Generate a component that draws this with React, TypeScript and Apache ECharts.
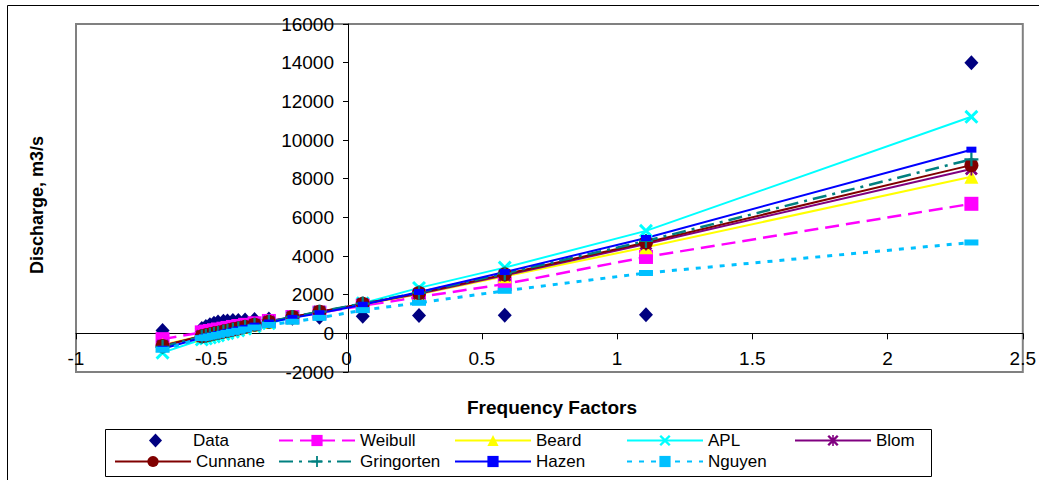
import React, { useEffect, useRef } from "react";
import * as echarts from "echarts";

const K = [-0.68, -0.535, -0.52, -0.505, -0.49, -0.475, -0.455, -0.44, -0.42, -0.4, -0.375, -0.34, -0.287, -0.2, -0.1, 0.06, 0.268, 0.585, 1.107, 2.31];
const dataQ = [150, 250, 350, 450, 520, 580, 620, 640, 660, 670, 690, 710, 740, 780, 830, 880, 920, 940, 960, 14000];
const weibull = [-300, 50, 90, 120, 160, 200, 240, 280, 330, 380, 440, 520, 640, 840, 1070, 1430, 1880, 2550, 3950, 6700];
const beard = [-600, -120, -80, -30, 10, 50, 110, 150, 210, 270, 340, 440, 590, 830, 1100, 1500, 2020, 2950, 4450, 8100];
const apl = [-1000, -320, -270, -215, -165, -110, -40, 10, 80, 150, 240, 360, 520, 800, 1080, 1560, 2350, 3400, 5300, 11200];
const blom = [-640, -140, -95, -50, -5, 40, 100, 145, 205, 265, 340, 445, 600, 845, 1110, 1520, 2050, 3000, 4620, 8500];
const cunnane = [-650, -150, -105, -60, -10, 35, 95, 140, 205, 265, 340, 450, 600, 850, 1120, 1530, 2080, 3050, 4700, 8700];
const gringorten = [-700, -170, -125, -75, -30, 20, 80, 125, 190, 250, 330, 440, 595, 850, 1120, 1540, 2110, 3100, 4780, 9000];
const hazen = [-800, -230, -180, -135, -85, -35, 30, 75, 140, 205, 285, 400, 560, 800, 1040, 1480, 2140, 3170, 4930, 9500];
const nguyen = [-850, -250, -210, -165, -125, -80, -25, 20, 75, 130, 200, 300, 430, 600, 800, 1200, 1580, 2200, 3120, 4700];

const xTicks = { min: -1, max: 2.5, interval: 0.5 };
const yTicks = { min: -2000, max: 16000, interval: 2000 };

const FONT = '"Liberation Sans", Arial, Helvetica, sans-serif';

const X_PATH = "path://M0,1.5 L1.5,0 L5,3.5 L8.5,0 L10,1.5 L6.5,5 L10,8.5 L8.5,10 L5,6.5 L1.5,10 L0,8.5 L3.5,5 Z";
const PLUS_PATH = "path://M4.2,0 H5.8 V4.2 H10 V5.8 H5.8 V10 H4.2 V5.8 H0 V4.2 H4.2 Z";
const STAR_PATH = "path://M0,1.5 L1.5,0 L5,3.5 L8.5,0 L10,1.5 L6.5,5 L10,8.5 L8.5,10 L5,6.5 L1.5,10 L0,8.5 L3.5,5 Z M4.3,0 H5.7 V10 H4.3 Z";

const pair = (vals: number[]) => K.map((k, i) => [k, vals[i]]);

function lineSeries(name: string, vals: number[], color: string, symbol: string, symbolSize: any, type: any, width: number) {
  return {
    type: "line",
    name,
    data: pair(vals),
    symbol,
    symbolSize,
    showSymbol: true,
    itemStyle: { color, borderWidth: 0, opacity: 1 },
    lineStyle: { color, width, type },
    emphasis: { disabled: true },
  };
}

// grid geometry
const GL = 76, GT = 24, GW = 952, GH = 348;

export default function App() {
  const ref = useRef<HTMLDivElement>(null);
  useEffect(() => {
    const chart = echarts.init(ref.current!, null, { renderer: "svg" });
    const row1 = 432;
    const row2 = 453;
    const legendItems: any[] = [
      { name: "Data", left: 149, top: row1, itemWidth: 13, padLeft: 26 },
      { name: "Weibull", left: 278, top: row1 },
      { name: "Beard", left: 454, top: row1 },
      { name: "APL", left: 626, top: row1 },
      { name: "Blom", left: 794, top: row1 },
      { name: "Cunnane", left: 114, top: row2 },
      { name: "Gringorten", left: 278, top: row2 },
      { name: "Hazen", left: 454, top: row2 },
      { name: "Nguyen", left: 626, top: row2 },
    ];
    // offsets that put each axis on the other's zero
    const xZeroFrac = (0 - xTicks.min) / (xTicks.max - xTicks.min);
    const yZeroFrac = (0 - yTicks.min) / (yTicks.max - yTicks.min);
    const yAxisOffset = -GW * xZeroFrac;
    const xAxisOffset = -GH * yZeroFrac;
    const fmt = (v: number) => String(v);
    const option: any = {
      animation: false,
      backgroundColor: "#ffffff",
      textStyle: { fontFamily: FONT },
      grid: {
        left: GL,
        top: GT,
        width: GW,
        height: GH,
        show: true,
        borderColor: "#808080",
        borderWidth: 2,
        backgroundColor: "transparent",
      },
      legend: legendItems.map((l) => ({
        data: [l.name],
        left: l.left,
        top: l.top,
        padding: 0,
        itemWidth: l.itemWidth || 76,
        itemHeight: 14,
        selectedMode: false,
        textStyle: {
          fontSize: 17,
          color: "#000",
          fontFamily: FONT,
          padding: [0, 0, 0, l.padLeft || 0],
        },
      })),
      xAxis: {
        type: "value",
        ...xTicks,
        offset: xAxisOffset,
        axisLine: { show: true, onZero: false, lineStyle: { color: "#000", width: 1 } },
        axisTick: { show: true, length: 6, lineStyle: { color: "#000" } },
        axisLabel: { fontSize: 19, color: "#000", margin: 16, fontFamily: FONT, showMinLabel: true, showMaxLabel: true, formatter: fmt },
        splitLine: { show: false },
      },
      yAxis: {
        type: "value",
        ...yTicks,
        offset: yAxisOffset,
        axisLine: { show: true, onZero: false, lineStyle: { color: "#000", width: 1 } },
        axisTick: { show: true, length: 5, lineStyle: { color: "#000" } },
        axisLabel: { fontSize: 19, color: "#000", margin: 14, fontFamily: FONT, showMinLabel: true, showMaxLabel: true, formatter: fmt },
        splitLine: { show: false },
      },
      series: [
        {
          type: "scatter",
          name: "Data",
          data: pair(dataQ),
          symbol: "diamond",
          symbolSize: [14, 15],
          itemStyle: { color: "#000080", opacity: 1 },
          emphasis: { disabled: true },
        },
        lineSeries("Weibull", weibull, "#FF00FF", "rect", 14, [14, 7], 2.5),
        lineSeries("Beard", beard, "#FFFF00", "triangle", 14, "solid", 2),
        lineSeries("APL", apl, "#00FFFF", X_PATH, 14, "solid", 2),
        lineSeries("Blom", blom, "#800080", STAR_PATH, 13, "solid", 2),
        lineSeries("Cunnane", cunnane, "#800000", "circle", 14, "solid", 2),
        lineSeries("Gringorten", gringorten, "#008080", PLUS_PATH, 14, [14, 6, 3, 6], 2.5),
        lineSeries("Hazen", hazen, "#0000FF", "rect", [10, 6], "solid", 2),
        lineSeries("Nguyen", nguyen, "#00C0FF", "rect", [14, 6], [5, 7], 3),
      ],
      graphic: [
        {
          type: "rect",
          silent: true,
          shape: { x: 7.5, y: 5.5, width: 1040, height: 480 },
          style: { fill: "none", stroke: "#000", lineWidth: 1 },
        },
        {
          type: "rect",
          silent: true,
          shape: { x: 105.5, y: 429.5, width: 826, height: 47 },
          style: { fill: "none", stroke: "#000", lineWidth: 1 },
        },
        {
          type: "text",
          silent: true,
          x: 37,
          y: 205,
          rotation: Math.PI / 2,
          style: {
            text: "Discharge, m3/s",
            fill: "#000",
            font: 'bold 18px "Liberation Sans", Arial, sans-serif',
            align: "center",
            verticalAlign: "middle",
          },
        },
        {
          type: "text",
          silent: true,
          x: 552,
          y: 407,
          style: {
            text: "Frequency Factors",
            fill: "#000",
            font: 'bold 19px "Liberation Sans", Arial, sans-serif',
            align: "center",
            verticalAlign: "middle",
          },
        },
      ],
    };
    chart.setOption(option);
    return () => chart.dispose();
  }, []);
  return (
    <div
      ref={ref}
      style={{ position: "absolute", left: 0, top: 0, width: 1039, height: 480, background: "#fff" }}
    />
  );
}
